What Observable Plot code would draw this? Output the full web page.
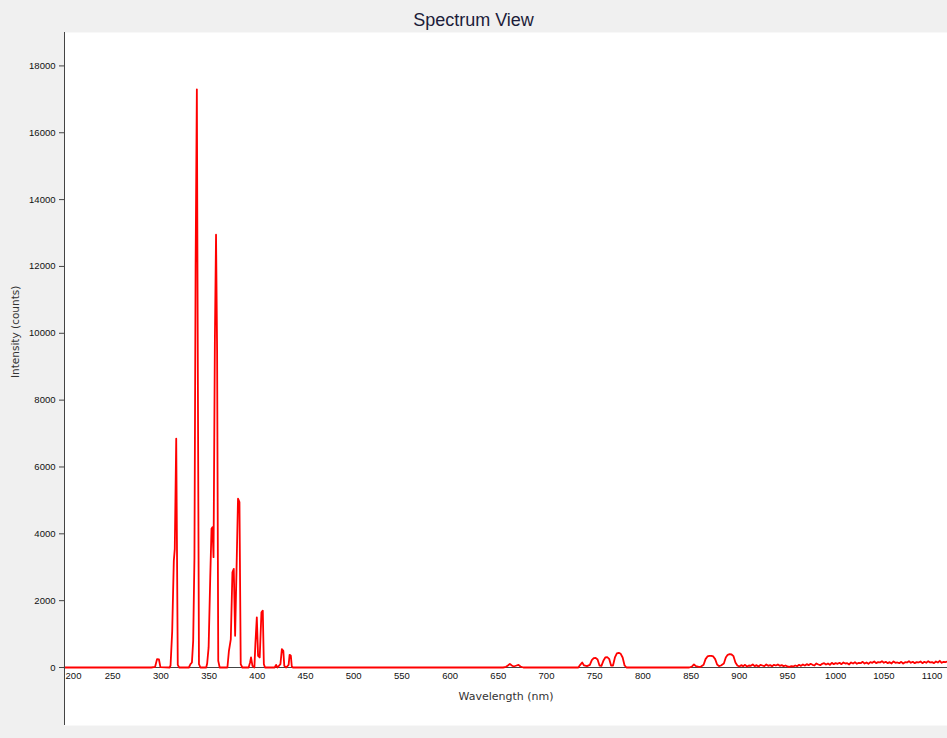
<!DOCTYPE html>
<html><head><meta charset="utf-8">
<script src="https://cdn.jsdelivr.net/npm/d3@7"></script>
<script src="https://cdn.jsdelivr.net/npm/@observablehq/plot@0.6"></script>
<style>
body{margin:0;background:#f0f0f0;width:947px;height:738px;overflow:hidden;font-family:"Liberation Sans",Arial,sans-serif}
#title{height:21px;padding-top:11px;text-align:center;font-size:18px;line-height:18px;color:#1c1c3a}
#chart svg{display:block;overflow:visible}
</style></head><body>
<div id="title">Spectrum View</div>
<div id="chart"></div>
<script>
// UV / visible emission lines (wavelength nm, intensity counts)
const uvWl = [200,290,294,296,298,299.5,309,310,311.7,313.4,314.4,315.9,317.5,319,329,330.7,332.2,333.5,334.8,336,337.3,338.3,339.5,341,347,348,349.5,351.2,352.5,353.5,354.6,356,357.2,358.3,359.5,361,369,370.5,372.5,374.2,375.6,377,378.5,380,381.5,382.8,384.5,391,392.5,393.5,395,397,398,399.5,400.8,402.5,404.3,405.7,406.8,408,418,419.5,421,424,425.5,427,428,430,432.5,433.5,434.8,435.8,437];
const uvI  = [0,0,20,250,240,10,0,60,1070,3190,3550,6850,80,0,0,100,150,800,3300,12000,17300,9000,100,0,0,120,600,2700,4150,4200,3300,9800,12950,9500,200,0,0,480,840,2850,2950,950,3000,5050,4950,100,0,0,150,300,50,0,700,1500,350,300,1650,1700,100,0,0,80,0,100,550,500,50,0,80,380,350,30,0];

// red / near-IR lines
const redWl = [440,655,658,660,662,664,666,669,671,673,676,730,733,735,737,739,742,745,747,749,751,753,755,757,759,761,763,765,767,769,771,773,775,777,779,781,783,848,851,853,855,858,860,863,865,867,869,871,873,875,877,879,881,884,886,888,890,892,894,896];
const redI  = [0,0,20,60,110,60,30,60,80,30,0,0,0,80,150,60,40,80,220,280,290,240,60,50,200,300,310,260,60,60,300,420,440,410,300,60,0,0,30,90,40,20,20,80,250,330,350,350,330,250,90,40,60,120,300,380,400,390,340,150];

// noisy tail, sampled every 2 nm from 898 to 1116 nm
const tailWl = d3.range(898, 1117, 2);
const tailI  = [60,30,70,40,80,30,60,50,90,40,70,30,80,60,40,90,50,70,40,80,60,90,50,70,40,60,
                30,20,40,30,60,40,80,50,90,60,100,
                70,110,80,60,120,90,70,110,130,90,120,80,140,100,130,
                110,140,100,150,120,130,90,150,120,160,110,140,130,170,120,150,110,160,140,180,130,160,150,190,140,
                170,130,160,120,180,140,150,130,170,120,160,150,190,140,170,130,160,150,180,130,170,140,190,150,160,130,180,150,200,140,170,160,180];

const xTickValues = [200,250,300,350,400,450,500,550,600,650,700,750,800,850,900,950,1000,1050,1100];
const yTickValues = [0,2000,4000,6000,8000,10000,12000,14000,16000,18000];

const spectrum = [
  ...uvWl.map((w, i) => ({wl: w, i: uvI[i]})),
  ...redWl.map((w, i) => ({wl: w, i: redI[i]})),
  ...tailWl.map((w, i) => ({wl: w, i: tailI[i]}))
];

const tickFont = {fontSize: 9.5, fontFamily: "Liberation Sans, Arial, sans-serif", fill: "#111"};

const chart = Plot.plot({
  width: 947,
  height: 706,
  marginLeft: 64,
  marginRight: 0,
  marginTop: 0,
  marginBottom: 71,
  style: {background: "transparent", overflow: "visible"},
  x: {domain: [200, 1116]},
  y: {domain: [0, 19000]},
  marks: [
    Plot.frame({fill: "white", stroke: null, insetBottom: -58}),
    Plot.ruleY([0], {stroke: "#444"}),
    Plot.line(spectrum, {x: "wl", y: "i", stroke: "#ff0000", strokeWidth: 1.8}),
    Plot.ruleX([200], {stroke: "#444", insetBottom: -58}),
    Plot.axisY(yTickValues, {tickSize: 5, tickPadding: 4, tickFormat: d => String(d), label: null, stroke: "#444", ...tickFont}),
    Plot.axisX(xTickValues.slice(1), {tickSize: 0, tickPadding: 5, tickFormat: d => String(d), label: null, ...tickFont}),
    Plot.axisX(xTickValues.slice(0, 1), {tickSize: 0, tickPadding: 5, dx: 9, tickFormat: d => String(d), label: null, ...tickFont}),
    Plot.text(["Wavelength (nm)"], {frameAnchor: "bottom", dy: 32, fontSize: 11, fontFamily: "DejaVu Sans, sans-serif", fill: "#333"}),
    Plot.text(["Intensity (counts)"], {frameAnchor: "left", rotate: -90, dx: -49, dy: 28, fontSize: 10.5, fontFamily: "DejaVu Sans, sans-serif", fill: "#333"})
  ]
});
document.getElementById("chart").append(chart);
</script></body></html>
